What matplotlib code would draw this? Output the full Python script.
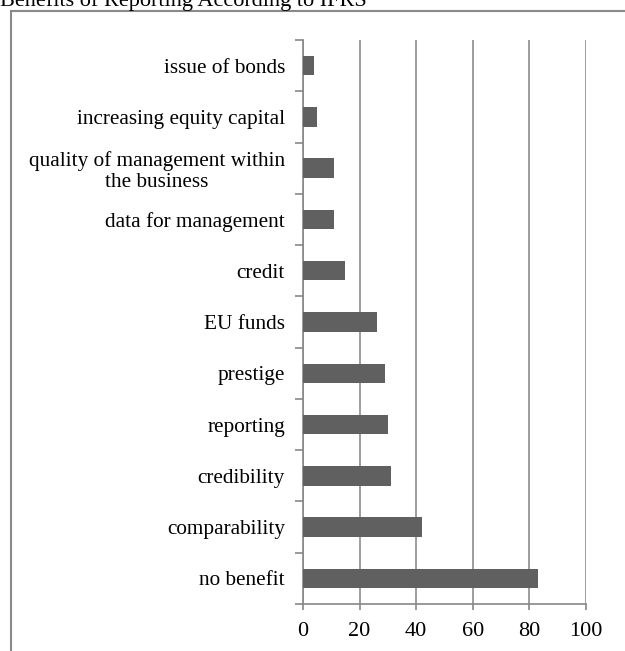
import matplotlib.pyplot as plt
from matplotlib.lines import Line2D

categories = ['no benefit', 'comparability', 'credibility', 'reporting', 'prestige',
              'EU funds', 'credit', 'data for management',
              'quality of management within\nthe business',
              'increasing equity capital', 'issue of bonds']
values = [83, 42, 31, 30, 29, 26, 15, 11, 11, 5, 4]
xticks = [0, 20, 40, 60, 80, 100]

plt.rcParams['font.family'] = ['Liberation Serif', 'DejaVu Serif']

W, H = 625, 651
fig = plt.figure(figsize=(W / 100, H / 100), dpi=100)
ax = fig.add_axes([303 / W, 1 - 604 / H, (586 - 303) / W, (604 - 40) / H])

pos = range(len(categories))
ax.barh(pos, values, height=0.38, color='#606060', zorder=3)
ax.set_ylim(-0.5, len(categories) - 0.5)
ax.set_xlim(0, 100)
ax.set_xticks(xticks)
ax.set_xticklabels([str(t) for t in xticks], fontsize=16)
ax.set_yticks(list(pos))
ax.set_yticklabels(categories, fontsize=15.3, ha='right', multialignment='center',
                   linespacing=1.12)
ax.set_yticks([p - 0.5 for p in range(len(categories) + 1)], minor=True)
ax.tick_params(axis='y', which='major', length=0, pad=13)
ax.tick_params(axis='y', which='minor', length=6, color='#888888', width=1.2)
ax.tick_params(axis='x', length=4, color='#888888', width=1.2, pad=9)
ax.grid(axis='x', color='#8c8c8c', linewidth=1.2, zorder=0)
for s in ['top', 'right']:
    ax.spines[s].set_visible(False)
for s in ['left', 'bottom']:
    ax.spines[s].set_color('#888888')
    ax.spines[s].set_linewidth(1.2)

# outer chart border (cropped)
fig.add_artist(Line2D([11 / W, 11 / W], [0, 1 - 11 / H], color='#8a8a8a', lw=1.5))
fig.add_artist(Line2D([11 / W, 1], [1 - 11 / H, 1 - 11 / H], color='#8a8a8a', lw=1.5))
fig.text(0, 1 - 6 / H, 'Benefits of Reporting According to IFRS', fontsize=16,
         ha='left', va='baseline')

fig.savefig('out.png', dpi=100)
